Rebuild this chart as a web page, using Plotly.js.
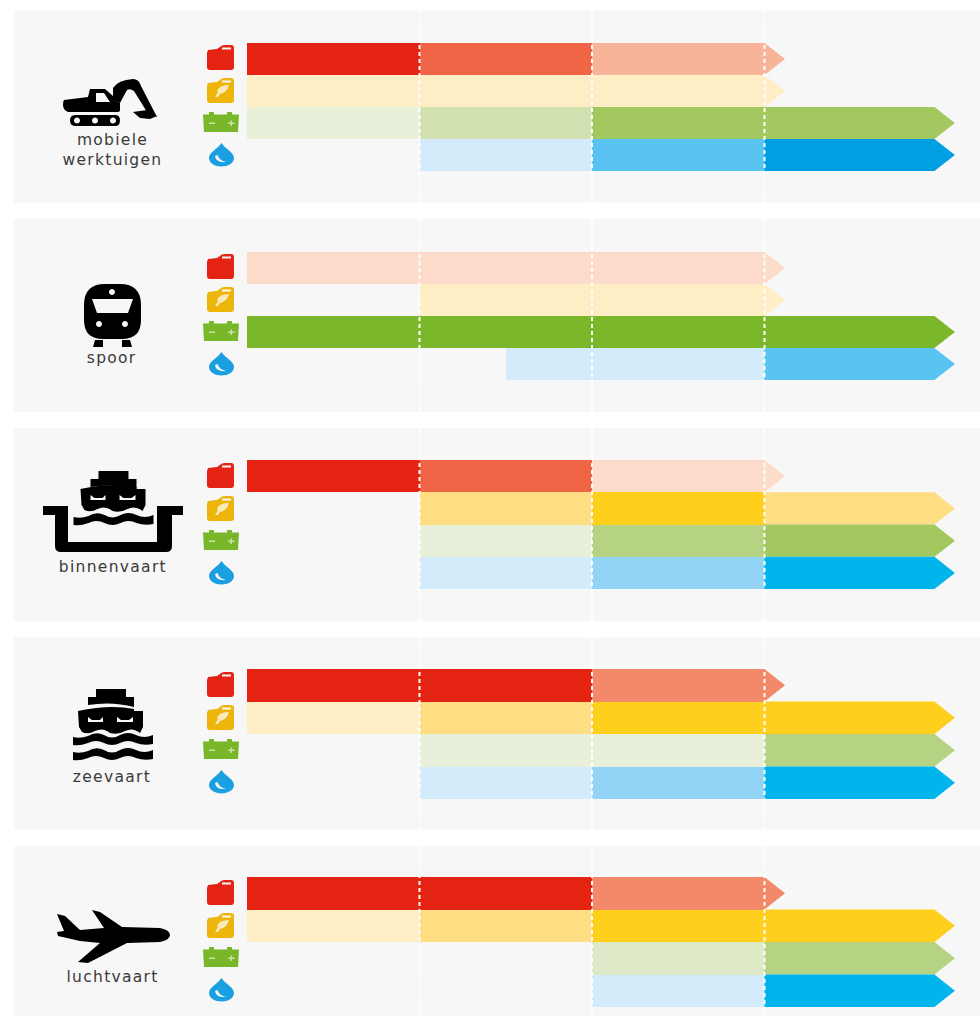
<!DOCTYPE html>
<html>
<head>
<meta charset="utf-8">
<script src="https://cdn.plot.ly/plotly-3.0.1.min.js"></script>
<style>
html,body{margin:0;padding:0;background:#fff}
#chart{width:980px;height:1016px}
#chart .annotation-text{letter-spacing:1.3px}
</style>
</head>
<body>
<div id="chart"></div>
<script>
// ---- data ----
const sectors = ['mobiele<br>werktuigen', 'spoor', 'binnenvaart', 'zeevaart', 'luchtvaart'];
const fuels = ['fossiel', 'bio', 'elektrisch', 'waterstof'];
const periods = [0, 1, 2, 3];

// colour ramps per fuel, strongest first
const rood = ['#E42313', '#EF6545', '#F4886A', '#F8B498', '#FDDBCB'];
const geel = ['#FFCF1E', '#FEDD83', '#FEEDC5'];
const groen = ['#7AB72A', '#A2C85F', '#B6D383', '#D1E1AF', '#DEE9C8', '#E8F0DA'];
const blauw = ['#009FE3', '#00B4EC', '#59C3F2', '#93D4F6', '#D3EBFB'];
const ramps = [rood, geel, groen, blauw];

// shade index per fuel row / period (null = no bar)
const mobieleShades = [[0, 1, 3, 3], [2, 2, 2, 2], [5, 3, 1, 1], [null, 4, 2, 0]];
const spoorShades = [[4, 4, 4, 4], [null, 2, 2, 2], [0, 0, 0, 0], [null, 4, 4, 2]];
const binnenShades = [[0, 1, 4, 4], [null, 1, 0, 1], [null, 5, 2, 1], [null, 4, 3, 1]];
const zeeShades = [[0, 0, 2, 2], [2, 1, 0, 0], [null, 5, 5, 2], [null, 4, 3, 1]];
const luchtShades = [[0, 0, 2, 2], [2, 1, 0, 0], [null, null, 4, 2], [null, null, 4, 1]];
const allShades = [mobieleShades, spoorShades, binnenShades, zeeShades, luchtShades];

// where each row's first bar starts, and where its final arrow body ends
const mobieleStarts = [0, 0, 0, 1];
const spoorStarts = [0, 1, 0, 1.5];
const binnenStarts = [0, 1, 1, 1];
const zeeStarts = [0, 0, 1, 1];
const luchtStarts = [0, 0, 2, 2];
const allStarts = [mobieleStarts, spoorStarts, binnenStarts, zeeStarts, luchtStarts];

const mobieleEnds = [3, 3, 3.985, 3.985];
const spoorEnds = [3, 3, 3.985, 3.985];
const binnenEnds = [3, 3.985, 3.985, 3.985];
const zeeEnds = [3, 3.985, 3.985, 3.985];
const luchtEnds = [3, 3.985, 3.985, 3.985];
const allEnds = [mobieleEnds, spoorEnds, binnenEnds, zeeEnds, luchtEnds];
const arrowHead = 0.119;

// ---- page geometry (pixels of the 980x1016 page) ----
const W = 980, H = 1016;
const panelTops = [10, 219, 428, 637, 846];
const panelBottoms = [203, 412, 621, 830, 1016];
const rowPxs = [32, 32, 32.25, 32.5, 32.5];
const firstRowTops = [43, 252, 460, 669, 877];
const labelYs = [150.5, 358, 567, 777, 977];
const labelXs = [112, 112, 113, 112, 112];
const px = x => (x / W).toFixed(5);
const py = y => (1 - y / H).toFixed(5);

const traces = [];
const layout = {
  width: W, height: H,
  margin: {l: 0, r: 0, t: 0, b: 0, pad: 0},
  paper_bgcolor: '#ffffff',
  plot_bgcolor: '#F7F7F7',
  showlegend: false,
  hovermode: false,
  barmode: 'overlay',
  bargap: 0,
  xaxis: {domain: [14 / W, 1], range: [(14 - 247) / 172.5, (980 - 247) / 172.5], visible: false, fixedrange: true},
  shapes: [],
  annotations: []
};

sectors.forEach((sector, s) => {
  const yName = s === 0 ? 'y' : 'y' + (s + 1);
  const axName = s === 0 ? 'yaxis' : 'yaxis' + (s + 1);
  const rowPx = rowPxs[s];
  const centre = firstRowTops[s] + rowPx / 2;
  layout[axName] = {
    domain: [1 - panelBottoms[s] / H, 1 - panelTops[s] / H],
    range: [(panelBottoms[s] - centre) / rowPx, (panelTops[s] - centre) / rowPx],
    anchor: 'x', visible: false, fixedrange: true
  };
  const xs = [], bases = [], ys = [], cols = [];
  fuels.forEach((fuel, r) => {
    periods.forEach(p => {
      const shade = allShades[s][r][p];
      if (shade === null) return;
      if (p < 3) {
        const base = Math.max(p, allStarts[s][r]);
        xs.push(p + 1 - base); bases.push(base); ys.push(r); cols.push(ramps[r][shade]);
      } else {
        const end = allEnds[s][r];
        traces.push({
          type: 'scatter', mode: 'lines', yaxis: yName, xaxis: 'x',
          x: [3, end, end + arrowHead, end, 3, 3],
          y: [r - 0.5, r - 0.5, r, r + 0.5, r + 0.5, r - 0.5],
          fill: 'toself', fillcolor: ramps[r][shade],
          line: {width: 0, color: ramps[r][shade]}, name: fuel
        });
      }
    });
  });
  traces.push({
    type: 'bar', orientation: 'h', yaxis: yName, xaxis: 'x',
    x: xs, base: bases, y: ys, width: 1,
    marker: {color: cols, line: {width: 0}}, name: sector
  });
  // dashed period separators
  [1, 2, 3].forEach(v => layout.shapes.push({
    type: 'line', xref: 'x', yref: 'paper', x0: v, x1: v,
    y0: py(panelTops[s]), y1: py(panelBottoms[s]),
    line: {color: '#ffffff', width: 2, dash: '4px,3px'}
  }));
  layout.annotations.push({
    xref: 'paper', yref: 'paper', x: labelXs[s] / W, y: 1 - labelYs[s] / H,
    xanchor: 'center', yanchor: 'middle', showarrow: false, text: sector,
    font: {family: 'DejaVu Sans', size: 15.5, color: '#3a3a3a'}
  });
});

// ---- icons: absolute-pixel path templates, converted to paper coordinates ----
function icon(d, dx, dy, color) {
  const path = d.replace(/(-?[\d.]+),(-?[\d.]+)/g, (m, a, b) => px(+a + dx) + ',' + py(+b + dy));
  layout.shapes.push({type: 'path', xref: 'paper', yref: 'paper', path, fillcolor: color, fillrule: 'evenodd', line: {width: 0}, layer: 'above'});
}
function circ(cx, cy, r) {
  const k = r * 0.55;
  return `M${cx - r},${cy} C${cx - r},${cy - k} ${cx - k},${cy - r} ${cx},${cy - r} C${cx + k},${cy - r} ${cx + r},${cy - k} ${cx + r},${cy} C${cx + r},${cy + k} ${cx + k},${cy + r} ${cx},${cy + r} C${cx - k},${cy + r} ${cx - r},${cy + k} ${cx - r},${cy} Z `;
}
const can = 'M207,53 L208,50 L217,49 L222,45.5 Q223,45 225,45 L231,45 Q234,45 234,48 L234,67 Q234,70 231,70 L210,70 Q207,70 207,67 Z M222,47.5 L231,47.5 L231,49.5 L222,49.5 Z';
const leaf = 'M215,97 L218,97 L220,94 Q227,93 229,85 Q219,85 217,91 L218,92 Z';
const battery = 'M203,114.5 L209,114.5 L209,112 L214,112 L214,114.5 L227,114.5 L227,112 L232,112 L232,114.5 L239,114.5 L238,132 L204,132 Z';
const batterySigns = 'M209,122.5 L215,122.5 L215,124 L209,124 Z M228,122.5 L230.5,122.5 L230.5,120.5 L232,120.5 L232,122.5 L234.5,122.5 L234.5,124 L232,124 L232,126 L230.5,126 L230.5,124 L228,124 Z';
const drop = 'M221.5,143 C225,149 234,152 234,158 C234,163 228,166.5 221.5,166.5 C215,166.5 209,163 209,158 C209,152 218,149 221.5,143 Z M215,156 Q216,163 226,162 Q219,160.5 217.5,155 Z';
const iconOffsets = [0, 209, 418, 627, 835];
iconOffsets.forEach(dy => {
  icon(can, 0, dy, '#E42313');
  icon(can, 0, dy + 33, '#EDB50A');
  icon(leaf, 0, dy, '#F7E9B8');
  icon(battery, 0, dy, '#78B72A');
  icon(batterySigns, 0, dy, '#CBE2A6');
  icon(drop, 0, dy, '#1A9FE0');
});

const K = '#000000';
// excavator
icon('M64,100 L88,97 L90,89 L105,89 L113,96 L114,100 L120,103 L120,110 Q120,112 117,112 L68,112 Q63,110 63,105 Q63,101 64,100 Z M96,93 L104,93 L110,102 L96,102 Z', 0, 0, K);
icon('M113,88 Q118,80 133,79 Q139,79 141,86 L157,117 L147,112 L134,91 Q130,88 127,90 L120,103 L113,100 Z', 0, 0, K);
icon('M133,112 L147,110 L157,116 L150,119 L140,118 Z', 0, 0, K);
icon('M76,115 L115,115 Q120,115 120,120.5 Q120,126 115,126 L76,126 Q70,126 70,120.5 Q70,115 76,115 Z ' + circ(77, 120.5, 3) + circ(95, 120.5, 3) + circ(113, 120.5, 3), 0, 0, K);
// train
icon('M84,305 Q84,284 105,284 L120,284 Q141,284 141,305 L141,320 Q141,339 122,339 L103,339 Q84,339 84,320 Z M92,299 L133,299 L128,313 L97,313 Z ' + circ(112, 292, 3) + circ(99, 324, 3) + circ(125, 324, 3), 0, 0, K);
icon('M95,340 L103,340 L103,347 L93,347 Z M122,340 L130,340 L132,347 L122,347 Z', 0, 0, K);
// ships
const shipTop = 'M96,689 L126,689 L126,697 L134,697 L134,707 Q112,701 88,705 L88,697 L96,697 Z';
const shipHull = 'M78,711 Q110,704 134,709 L134,711 L143,711 L143,727 L140,733 Q133,727 125,731 Q118,735 110,733 Q103,727 95,731 Q88,735 82,732 L79,727 Z M88,717 L92,720 L100,720 L103,717 L103,722 L88,722 Z M117,717 L121,720 L129,720 L133,717 L133,722 L117,722 Z';
const wave = 'M73,737 Q80,739 88,736 Q96,731 104,735 Q112,740 120,735 Q128,731 136,735 Q144,739 153,735 L153,744 Q144,746 136,743 Q128,739 120,743 Q112,747 104,743 Q96,739 88,743 Q80,746 73,745 Z';
icon(shipTop, 0, 0, K); icon(shipHull, 0, 0, K);
icon(shipTop, 2.5, -218, K); icon(shipHull, 2.5, -222, K);
icon(wave, 0, 0, K);
icon(wave, 0, 15, K);
icon(wave, 0.5, -220, K);
icon('M43,506 L68,506 L68,542 L157,542 L157,506 L183,506 L183,515 L172,515 L172,546 Q172,552 166,552 L61,552 Q55,552 55,546 L55,515 L43,515 Z', 0, 0, K);
// aeroplane
icon('M170,935 Q170,930 160,928 L122,927 L100,912 L92,910 L104,928 L80,930 L65,916 L57,914 L64,931 L57,932 L58,936 L80,941 L100,943 L78,962 L88,963 L127,943 L160,942 Q170,940 170,935 Z', 0, 0, K);

Plotly.newPlot('chart', traces, layout, {displayModeBar: false, staticPlot: true});
</script>
</body>
</html>
